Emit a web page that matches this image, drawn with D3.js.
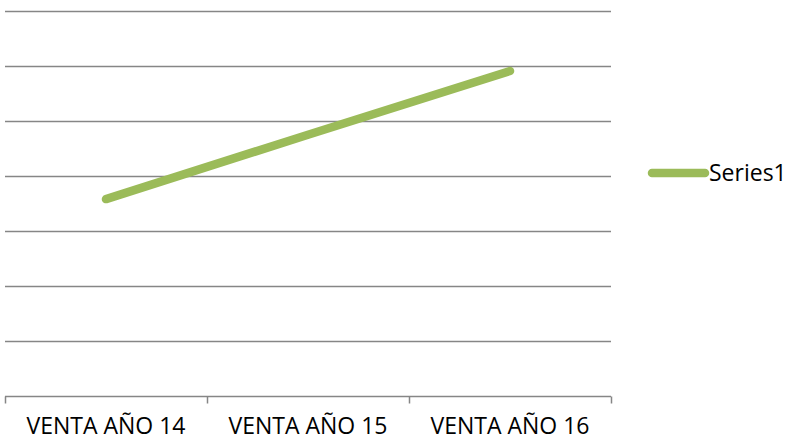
<!doctype html>
<html>
<head>
<meta charset="utf-8" />
<title>Venta por año</title>
<script src="https://cdn.jsdelivr.net/npm/d3@7"></script>
<style>
  body { margin: 0; background: #fff; }
  text { font-family: "Open Sans", "Liberation Sans", sans-serif; fill: #000; }
</style>
</head>
<body>
<div id="chart"></div>
<script>
// data
var categories = ['VENTA AÑO 14', 'VENTA AÑO 15', 'VENTA AÑO 16'];
var series1 = [3.58, 4.75, 5.91];
var yTicks = [0, 1, 2, 3, 4, 5, 6, 7];
var seriesName = 'Series1';

var width = 801, height = 439;
var plotLeft = 5, plotRight = 611, plotTop = 11, plotBottom = 396;

var svg = d3.select('#chart')
    .append('svg')
    .attr('width', width)
    .attr('height', height);

var x = d3.scaleBand()
    .domain(categories)
    .range([plotLeft, plotRight]);

var y = d3.scaleLinear()
    .domain([0, 7])
    .range([plotBottom, plotTop]);

// horizontal grid
svg.append('g')
    .selectAll('line')
    .data(yTicks.slice(1))
    .enter().append('line')
    .attr('x1', plotLeft)
    .attr('x2', plotRight)
    .attr('y1', function (d) { return Math.round(y(d)) + 0.5; })
    .attr('y2', function (d) { return Math.round(y(d)) + 0.5; })
    .style('stroke', '#868686')
    .style('stroke-width', 1.5);

// category axis
var xAxis = d3.axisBottom(x).tickSize(0).tickPadding(0);
var gx = svg.append('g')
    .attr('transform', 'translate(0,' + (plotBottom + 0.5) + ')')
    .call(xAxis);
gx.select('.domain').remove();
gx.selectAll('.tick text')
    .attr('y', 37)
    .attr('dy', 0)
    .style('font-size', '23px')
    .style('font-family', '"Open Sans", sans-serif');

gx.append('line')
    .attr('x1', plotLeft).attr('x2', plotRight)
    .style('stroke', '#868686').style('stroke-width', 1.5);

var boundaries = [plotLeft].concat(categories.map(function (c) { return x(c) + x.bandwidth(); }));
gx.selectAll('.bound')
    .data(boundaries)
    .enter().append('line')
    .attr('class', 'bound')
    .attr('x1', function (d) { return Math.round(d) + 0.5; })
    .attr('x2', function (d) { return Math.round(d) + 0.5; })
    .attr('y1', 0).attr('y2', 7)
    .style('stroke', '#868686').style('stroke-width', 1.5);

// the series line
var line = d3.line()
    .x(function (d, i) { return x(categories[i]) + x.bandwidth() / 2; })
    .y(function (d) { return y(d); });

svg.append('path')
    .datum(series1)
    .attr('d', line)
    .style('fill', 'none')
    .style('stroke', '#9bbb59')
    .style('stroke-width', 8.5)
    .style('stroke-linecap', 'round')
    .style('stroke-linejoin', 'round');

// legend
var legend = svg.append('g').attr('transform', 'translate(652,173)');
legend.append('line')
    .attr('x1', 0).attr('x2', 53)
    .style('stroke', '#9bbb59')
    .style('stroke-width', 8.5)
    .style('stroke-linecap', 'round');
legend.append('text')
    .attr('x', 57)
    .attr('y', 8)
    .style('font-size', '23px')
    .text(seriesName);
</script>
</body>
</html>
